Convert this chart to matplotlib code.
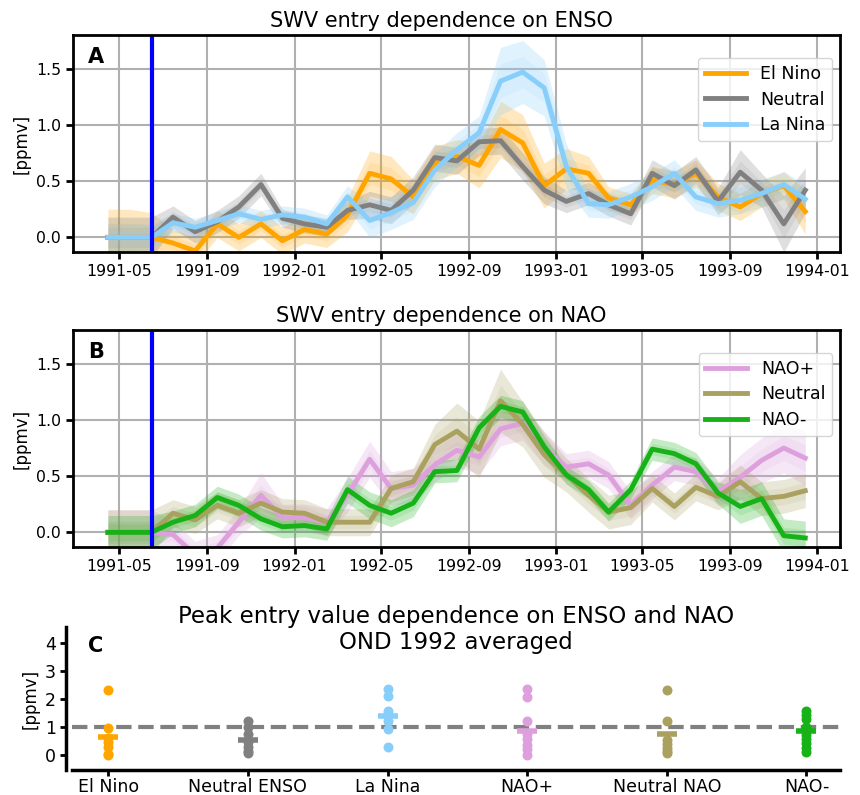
import numpy as np
import pandas as pd
import matplotlib
matplotlib.use("Agg")
import matplotlib.pyplot as plt
import matplotlib.dates as mdates

# monthly means, Apr 1991 .. Dec 1993 (mid month)
dates = pd.date_range("1991-04-01", "1993-12-01", freq="MS") + pd.Timedelta(days=14)
eruption = pd.Timestamp("1991-06-15")

el_nino = [0, 0, 0, -0.05, -0.12, 0.12, 0.0, 0.12, -0.03, 0.07, 0.03, 0.2, 0.57, 0.52, 0.36, 0.66,
           0.72, 0.64, 0.96, 0.84, 0.46, 0.61, 0.57, 0.35, 0.29, 0.51, 0.47, 0.57, 0.36, 0.27, 0.39, 0.46, 0.23]
el_nino_sd = [0.25, 0.25, 0.22, 0.12, 0.12, 0.12, 0.12, 0.12, 0.12, 0.12, 0.12, 0.15, 0.2, 0.2, 0.15, 0.15,
              0.15, 0.2, 0.25, 0.25, 0.2, 0.18, 0.15, 0.1, 0.1, 0.12, 0.12, 0.12, 0.12, 0.12, 0.12, 0.12, 0.2]
neutral_enso = [0, 0, 0, 0.18, 0.05, 0.14, 0.27, 0.47, 0.17, 0.12, 0.09, 0.24, 0.29, 0.24, 0.42, 0.71,
                0.68, 0.85, 0.86, 0.63, 0.42, 0.32, 0.39, 0.29, 0.21, 0.57, 0.46, 0.60, 0.32, 0.58, 0.42, 0.12, 0.42]
neutral_enso_sd = [0.18, 0.18, 0.18, 0.1, 0.1, 0.1, 0.1, 0.1, 0.08, 0.08, 0.08, 0.08, 0.12, 0.12, 0.12, 0.12,
                   0.12, 0.12, 0.12, 0.12, 0.12, 0.1, 0.1, 0.1, 0.1, 0.12, 0.12, 0.12, 0.12, 0.2, 0.15, 0.25, 0.2]
la_nina = [0, 0, 0, 0.13, 0.09, 0.15, 0.21, 0.16, 0.2, 0.18, 0.12, 0.36, 0.15, 0.22, 0.31, 0.6,
           0.78, 0.93, 1.39, 1.47, 1.33, 0.63, 0.30, 0.29, 0.36, 0.45, 0.57, 0.36, 0.30, 0.33, 0.39, 0.47, 0.34]
la_nina_sd = [0.12, 0.12, 0.12, 0.08, 0.08, 0.08, 0.08, 0.08, 0.08, 0.08, 0.08, 0.1, 0.15, 0.15, 0.15, 0.15,
              0.15, 0.15, 0.3, 0.28, 0.25, 0.2, 0.12, 0.12, 0.12, 0.12, 0.12, 0.12, 0.12, 0.12, 0.12, 0.12, 0.12]

nao_pos = [0, 0, 0, -0.02, -0.2, -0.14, 0.09, 0.33, 0.13, 0.13, 0.09, 0.33, 0.65, 0.39, 0.42, 0.6,
           0.73, 0.67, 0.92, 0.97, 0.75, 0.58, 0.61, 0.51, 0.24, 0.42, 0.58, 0.54, 0.36, 0.49, 0.64, 0.75, 0.66]
nao_pos_sd = [0.2, 0.2, 0.2, 0.12, 0.12, 0.12, 0.12, 0.2, 0.12, 0.12, 0.12, 0.15, 0.16, 0.15, 0.15, 0.15,
              0.15, 0.15, 0.15, 0.15, 0.15, 0.12, 0.12, 0.12, 0.12, 0.12, 0.12, 0.12, 0.12, 0.2, 0.2, 0.22, 0.24]
neutral_nao = [0, 0, 0, 0.17, 0.11, 0.24, 0.17, 0.26, 0.18, 0.17, 0.09, 0.09, 0.09, 0.39, 0.45, 0.78,
               0.9, 0.74, 1.17, 0.96, 0.69, 0.51, 0.33, 0.18, 0.22, 0.39, 0.23, 0.40, 0.32, 0.45, 0.30, 0.32, 0.37]
neutral_nao_sd = [0.2, 0.2, 0.2, 0.12, 0.12, 0.12, 0.12, 0.12, 0.12, 0.12, 0.12, 0.12, 0.12, 0.12, 0.12, 0.18,
                  0.25, 0.25, 0.28, 0.2, 0.2, 0.15, 0.15, 0.15, 0.15, 0.12, 0.12, 0.12, 0.12, 0.15, 0.15, 0.15, 0.15]
nao_neg = [0, 0, 0, 0.09, 0.15, 0.31, 0.24, 0.12, 0.05, 0.06, 0.03, 0.38, 0.24, 0.17, 0.26, 0.54,
           0.55, 0.93, 1.12, 1.07, 0.76, 0.51, 0.38, 0.18, 0.38, 0.74, 0.70, 0.61, 0.35, 0.23, 0.30, -0.03, -0.05]
nao_neg_sd = [0.15, 0.15, 0.15, 0.1, 0.1, 0.1, 0.1, 0.1, 0.1, 0.1, 0.1, 0.12, 0.12, 0.12, 0.12, 0.1,
              0.1, 0.1, 0.1, 0.1, 0.1, 0.08, 0.08, 0.08, 0.08, 0.1, 0.1, 0.1, 0.1, 0.15, 0.15, 0.15, 0.15]

# panel C: OND 1992 peak values per member
cat_labels = ["El Nino", "Neutral ENSO", "La Nina", "NAO+", "Neutral NAO", "NAO-"]
peak_vals = [
    [2.32, 0.95, 0.6, 0.45, 0.3, 0.05, -0.02],
    [1.22, 0.98, 0.75, 0.45, 0.3, 0.15, 0.06],
    [2.35, 2.09, 1.57, 1.45, 1.22, 0.91, 0.29],
    [2.35, 2.07, 1.22, 0.75, 0.58, 0.35, 0.2, -0.02],
    [2.32, 1.22, 0.52, 0.4, 0.25, 0.15, 0.06],
    [1.57, 1.42, 1.28, 1.0, 0.7, 0.55, 0.41, 0.25, 0.12],
]
peak_means = [0.64, 0.52, 1.37, 0.87, 0.73, 0.87]

c_orange = "orange"
c_gray = "gray"
c_blue = "lightskyblue"
c_plum = "plum"
c_olive = "#aaa060"
c_green = "#17b217"

fig = plt.figure(figsize=(8.6, 7.95), dpi=100)
axA = fig.add_axes([0.0849, 0.683, 0.892, 0.273])
axB = fig.add_axes([0.0849, 0.312, 0.892, 0.273])
axC = fig.add_axes([0.0837, 0.031, 0.893, 0.180])


def ts_panel(ax, series, title, letter):
    for vals, sd, col, lab in series:
        vals = np.array(vals)
        sd = np.array(sd)
        ax.fill_between(dates, vals - sd, vals + sd, color=col, alpha=0.25, lw=0)
        ax.fill_between(dates, vals - sd / 2, vals + sd / 2, color=col, alpha=0.12, lw=0)
    for vals, sd, col, lab in series:
        ax.plot(dates, vals, color=col, lw=3.5, label=lab)
    ax.axvline(eruption, color="blue", lw=3)
    ax.set_ylim(-0.13, 1.8)
    ax.set_yticks([0.0, 0.5, 1.0, 1.5])
    ax.xaxis.set_major_locator(mdates.MonthLocator(bymonth=[1, 5, 9]))
    ax.xaxis.set_major_formatter(mdates.DateFormatter("%Y-%m"))
    ax.grid(color="#b0b0b0", lw=1.5)
    ax.set_axisbelow(True)
    for s in ax.spines.values():
        s.set_linewidth(2)
    ax.tick_params(labelsize=11.3, width=2, length=5)
    ax.set_ylabel("[ppmv]", fontsize=12)
    ax.set_title(title, fontsize=15, x=0.48)
    ax.text(0.02, 0.9, letter, transform=ax.transAxes, fontsize=15,
            fontweight="bold", va="center")
    ax.legend(loc="upper right", bbox_to_anchor=(0.99, 0.895), borderaxespad=0,
              fontsize=12.5, handlelength=2.4, labelspacing=0.45)


ts_panel(axA, [(el_nino, el_nino_sd, c_orange, "El Nino"),
               (neutral_enso, neutral_enso_sd, c_gray, "Neutral"),
               (la_nina, la_nina_sd, c_blue, "La Nina")],
         "SWV entry dependence on ENSO", "A")
ts_panel(axB, [(nao_pos, nao_pos_sd, c_plum, "NAO+"),
               (neutral_nao, neutral_nao_sd, c_olive, "Neutral"),
               (nao_neg, nao_neg_sd, c_green, "NAO-")],
         "SWV entry dependence on NAO", "B")

# panel C
cols = [c_orange, c_gray, c_blue, c_plum, c_olive, c_green]
for i, vals in enumerate(peak_vals):
    axC.scatter([i] * len(vals), vals, color=cols[i], s=38, zorder=3)
    axC.plot(i, peak_means[i], marker="_", ms=14, mew=4, color=cols[i], zorder=4)
axC.axhline(1.0, color="gray", ls="--", lw=3, zorder=1)
axC.set_xticks(range(len(cat_labels)))
axC.set_xticklabels(cat_labels)
axC.set_xlim(-0.26, 5.24)
axC.set_ylim(-0.55, 4.55)
axC.set_yticks([0, 1, 2, 3, 4])
axC.spines["top"].set_visible(False)
axC.spines["right"].set_visible(False)
axC.spines["left"].set_position(("outward", 4))
for s in ["left", "bottom"]:
    axC.spines[s].set_linewidth(2.5)
axC.tick_params(labelsize=12.5, width=2, length=4)
axC.tick_params(axis="x", pad=1.5)
axC.set_ylabel("[ppmv]", fontsize=12)
axC.text(0.5, 0.81, "Peak entry value dependence on ENSO and NAO\nOND 1992 averaged",
         transform=axC.transAxes, ha="center", va="bottom", fontsize=16.5)
axC.text(0.021, 0.87, "C", transform=axC.transAxes, fontsize=15,
         fontweight="bold", va="center")

fig.savefig("out.png", dpi=100)
